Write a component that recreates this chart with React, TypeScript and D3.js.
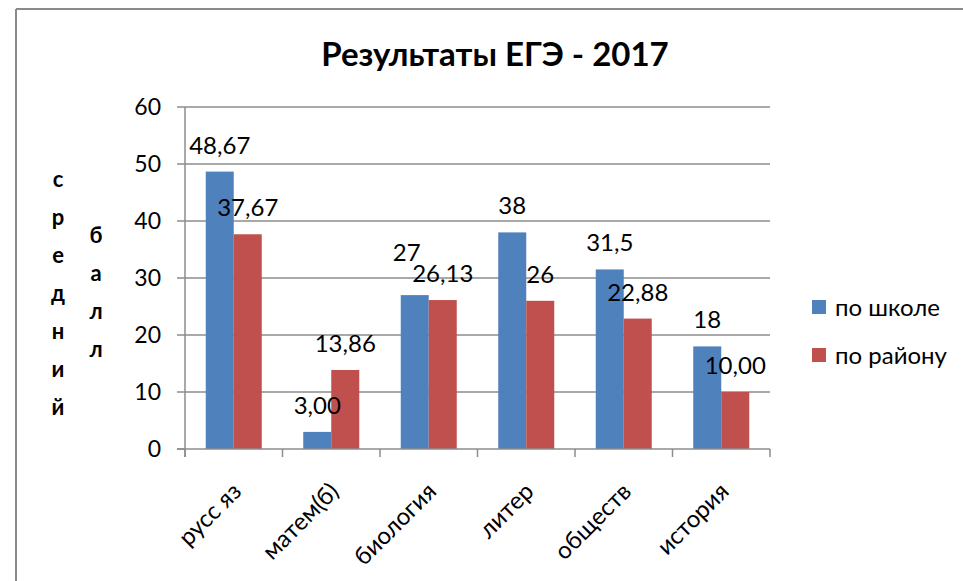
import React from "react";
import * as d3 from "d3";

const categories = ["русс яз", "матем(б)", "биология", "литер", "обществ", "история"];
const seriesNames = ["по школе", "по району"];
const schoolValues = [48.67, 3, 27, 38, 31.5, 18];
const districtValues = [37.67, 13.86, 26.13, 26, 22.88, 10];
const schoolLabels = ["48,67", "3,00", "27", "38", "31,5", "18"];
const districtLabels = ["37,67", "13,86", "26,13", "26", "22,88", "10,00"];
const yTicks = [0, 10, 20, 30, 40, 50, 60];
const titleText = "Результаты ЕГЭ - 2017";
const yTitleCol1 = ["с", "р", "е", "д", "н", "и", "й"];
const yTitleCol2 = ["б", "а", "л", "л"];

const colors = ["#4F81BD", "#C0504D"];
const FONT = "Lato, 'Open Sans', sans-serif";

export default function App() {
  const W = 963, H = 581;
  const left = 185, right = 770, top = 107, bottom = 449;

  const x0 = d3.scaleBand<string>().domain(categories).range([left, right]).paddingInner(0.4256).paddingOuter(0.2128);
  const x1 = d3.scaleBand<string>().domain(seriesNames).range([0, x0.bandwidth()]);
  const y = d3.scaleLinear().domain([0, 60]).range([bottom, top]);

  const series = [
    { name: seriesNames[0], values: schoolValues, labels: schoolLabels, color: colors[0] },
    { name: seriesNames[1], values: districtValues, labels: districtLabels, color: colors[1] },
  ];

  // manual label nudge (label moved in original): series 0, category "биология"
  const nudge = (si: number, ci: number) => (si === 0 && ci === 2 ? { dx: -8, dy: -16 } : { dx: 0, dy: 0 });

  const catStep = x0.step();
  const tickXs = d3.range(categories.length + 1).map((i) => left + i * catStep);

  return (
    <svg width={W} height={H} style={{ position: "absolute", left: 0, top: 0, background: "#fff" }} fontFamily={FONT}>
      <rect x={0} y={0} width={W} height={H} fill="#fff" />
      {/* frame */}
      <line x1={16} y1={9} x2={W} y2={9} stroke="#8a8a8a" strokeWidth={2} />
      <line x1={16} y1={9} x2={16} y2={H} stroke="#8a8a8a" strokeWidth={2} />

      {/* title */}
      <text x={495} y={66} textAnchor="middle" fontSize={33} fontWeight="bold" fill="#000">
        {titleText}
      </text>

      {/* gridlines */}
      {yTicks.map((t) => (
        <g key={t}>
          {t !== 0 && <line x1={left} x2={right} y1={y(t)} y2={y(t)} stroke="#8c8c8c" strokeWidth={1.5} />}
          <line x1={left - 8} x2={left} y1={y(t)} y2={y(t)} stroke="#8c8c8c" strokeWidth={1.5} />
          <text x={161} y={y(t)} dy="0.36em" textAnchor="end" fontSize={23} fill="#000">
            {t}
          </text>
        </g>
      ))}

      {/* bars */}
      {series.map((s, si) =>
        categories.map((c, ci) => (
          <rect
            key={`${si}-${ci}`}
            x={(x0(c) as number) + (x1(s.name) as number)}
            y={y(s.values[ci])}
            width={x1.bandwidth()}
            height={bottom - y(s.values[ci])}
            fill={s.color}
          />
        ))
      )}

      {/* axes */}
      <line x1={left} x2={left} y1={top} y2={bottom + 8} stroke="#8c8c8c" strokeWidth={1.5} />
      <line x1={left - 8} x2={right} y1={bottom} y2={bottom} stroke="#8c8c8c" strokeWidth={1.5} />
      {tickXs.map((tx, i) => (
        <line key={i} x1={tx} x2={tx} y1={bottom} y2={bottom + 8} stroke="#8c8c8c" strokeWidth={1.5} />
      ))}

      {/* data labels */}
      {series.map((s, si) =>
        categories.map((c, ci) => {
          const n = nudge(si, ci);
          return (
            <text
              key={`l-${si}-${ci}`}
              x={(x0(c) as number) + (x1(s.name) as number) + x1.bandwidth() / 2 + n.dx}
              y={y(s.values[ci]) - 18 + n.dy}
              textAnchor="middle"
              fontSize={24}
              fill="#000"
            >
              {s.labels[ci]}
            </text>
          );
        })
      )}

      {/* category labels */}
      {categories.map((c) => {
        const cx = (x0(c) as number) + x0.bandwidth() / 2;
        return (
          <text
            key={c}
            transform={`translate(${cx + 9},${bottom + 44}) rotate(-45)`}
            textAnchor="end"
            fontSize={24}
            fill="#000"
          >
            {c}
          </text>
        );
      })}

      {/* y-axis title */}
      {yTitleCol1.map((ch, i) => (
        <text key={`a${i}`} x={58} y={187 + i * 38} textAnchor="middle" fontSize={22} fontWeight="bold" fill="#000">
          {ch}
        </text>
      ))}
      {yTitleCol2.map((ch, i) => (
        <text key={`b${i}`} x={96} y={243 + i * 38} textAnchor="middle" fontSize={22} fontWeight="bold" fill="#000">
          {ch}
        </text>
      ))}

      {/* legend */}
      {series.map((s, si) => (
        <g key={s.name} transform={`translate(812,${300 + si * 48})`}>
          <rect x={0} y={0} width={14} height={14} fill={s.color} />
          <text x={23} y={7} dy="0.36em" fontSize={24} fill="#000">
            {s.name}
          </text>
        </g>
      ))}
    </svg>
  );
}
